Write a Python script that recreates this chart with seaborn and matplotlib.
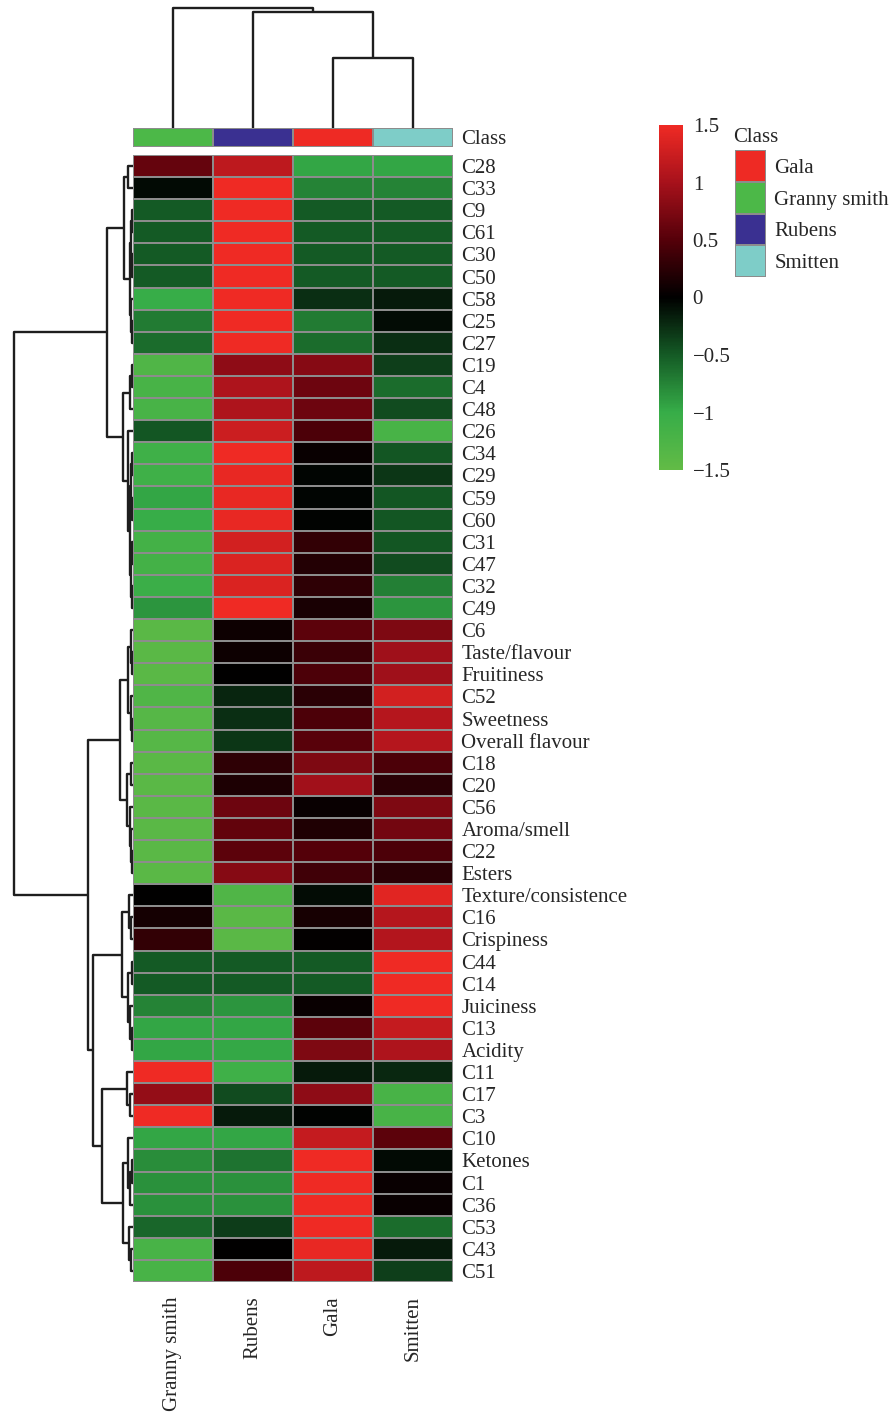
import matplotlib
matplotlib.use("Agg")
import numpy as np
import pandas as pd
import matplotlib.pyplot as plt
import seaborn as sns
from matplotlib.colors import LinearSegmentedColormap, ListedColormap

# --- data ---
samples = ["Granny smith", "Rubens", "Gala", "Smitten"]
features = ["C28", "C33", "C9", "C61", "C30", "C50", "C58", "C25", "C27",
            "C19", "C4", "C48", "C26", "C34", "C29", "C59", "C60", "C31",
            "C47", "C32", "C49", "C6", "Taste/flavour", "Fruitiness", "C52",
            "Sweetness", "Overall flavour", "C18", "C20", "C56", "Aroma/smell",
            "C22", "Esters", "Texture/consistence", "C16", "Crispiness", "C44",
            "C14", "Juiciness", "C13", "Acidity", "C11", "C17", "C3", "C10",
            "Ketones", "C1", "C36", "C53", "C43", "C51"]

granny = [0.6, -0.05, -0.5, -0.5, -0.5, -0.5, -1.0, -0.7, -0.6,
          -1.3, -1.2, -1.2, -0.48, -1.1, -1.1, -0.95, -1.0, -1.15,
          -1.15, -1.05, -0.85, -1.4, -1.4, -1.4, -1.3,
          -1.35, -1.35, -1.4, -1.4, -1.4, -1.4,
          -1.4, -1.4, 0.0, 0.12, 0.3, -0.5,
          -0.5, -0.75, -0.95, -0.95, 1.5, 0.88, 1.5, -0.95,
          -0.8, -0.83, -0.83, -0.57, -1.2, -1.2]
rubens = [1.15, 1.5, 1.5, 1.5, 1.5, 1.5, 1.5, 1.5, 1.5,
          0.85, 1.05, 1.05, 1.25, 1.5, 1.45, 1.45, 1.45, 1.3,
          1.35, 1.35, 1.5, 0.08, 0.08, 0.0, -0.2,
          -0.25, -0.3, 0.27, 0.17, 0.65, 0.58,
          0.55, 0.8, -1.3, -1.4, -1.4, -0.5,
          -0.5, -0.85, -0.95, -0.97, -1.1, -0.42, -0.15, -0.95,
          -0.65, -0.83, -0.83, -0.33, 0.0, 0.45]
gala = [-0.95, -0.75, -0.5, -0.5, -0.5, -0.5, -0.25, -0.7, -0.6,
        0.8, 0.65, 0.65, 0.45, 0.05, -0.03, -0.03, -0.02, 0.3,
        0.2, 0.28, 0.15, 0.55, 0.35, 0.45, 0.25,
        0.45, 0.52, 0.75, 0.97, 0.05, 0.18,
        0.5, 0.38, -0.07, 0.14, 0.02, -0.5,
        -0.5, 0.05, 0.55, 0.75, -0.15, 0.85, -0.02, 1.2,
        1.5, 1.5, 1.5, 1.5, 1.45, 1.15]
smitten = [-0.95, -0.75, -0.5, -0.5, -0.5, -0.5, -0.15, -0.07, -0.25,
           -0.35, -0.6, -0.42, -1.2, -0.48, -0.3, -0.48, -0.48, -0.48,
           -0.42, -0.72, -0.85, 0.75, 0.95, 0.95, 1.3,
           1.1, 1.1, 0.45, 0.25, 0.75, 0.68,
           0.45, 0.25, 1.4, 1.1, 1.08, 1.5,
           1.5, 1.5, 1.2, 1.05, -0.22, -1.2, -1.2, 0.55,
           -0.05, 0.05, 0.05, -0.6, -0.15, -0.35]

class_names = ["Gala", "Granny smith", "Rubens", "Smitten"]
class_colors = ["#ee2a24", "#4cb848", "#3a3091", "#7ecdc8"]

# dendrograms: (height, left, right), leaves are row / column indices
col_tree = (120, 0, (116, 1, (70, 2, 3)))

A = (9, (5, 0, 1), (3, (2.5, (1.5, 2, 3), (1.5, 4, 5)), (2, 6, (1.5, 7, 8))))
B = (10, (3, (1.5, 9, 10), 11),
     (5, 12, (3, (2, (1, 13, 14), (1, 15, 16)), (2, (1, 17, 18), (1.5, 19, 20)))))
C = (13, (5, (2, 21, (1, 22, 23)), (2.5, 24, (1.5, 25, 26))),
     (6, (2, 27, 28), (3, 29, (2, 30, (1, 31, 32)))))
E = (11, (4, 33, (2, 34, 35)), (5, (1.5, 36, 37), (3, 38, (1.5, 39, 40))))
F = (31, (6, 41, (3, 42, 43)),
     (10, (5, 44, (3, (1.5, 45, 46), 47)), (4, 48, (2, 49, 50))))
row_tree = (119, (26, A, B), (45, C, (40, E, F)))

df = pd.DataFrame({"Granny smith": granny, "Rubens": rubens,
                   "Gala": gala, "Smitten": smitten}, index=features)

sns.set_theme(style="white")
plt.rcParams['font.family'] = ['Liberation Serif', 'DejaVu Serif']
FS = 15

cmap = LinearSegmentedColormap.from_list(
    "gkr", [(0, "#62bb46"), (1/6, "#36ad48"), (2/6, "#145a25"), (0.5, "#000000"),
            (4/6, "#540009"), (5/6, "#a6111b"), (1, "#ef2a24")])
class_cmap = ListedColormap(class_colors)

W, H = 894, 1418
fig = plt.figure(figsize=(W / 100, H / 100), dpi=100)


def add_ax(x0, y0, x1, y1):
    # pixel box (top-left origin) -> figure axes
    return fig.add_axes([x0 / W, 1 - y1 / H, (x1 - x0) / W, (y1 - y0) / H])


def draw_tree(ax, node, top):
    if isinstance(node, int):
        return node + 0.5, 0
    h, left, right = node
    p1, h1 = draw_tree(ax, left, top)
    p2, h2 = draw_tree(ax, right, top)
    pos = [p1, p1, p2, p2]
    hts = [h1, h, h, h2]
    if top:
        ax.plot(pos, hts, color="#1e1e1e", lw=1.7, solid_capstyle="butt")
    else:
        ax.plot(hts, pos, color="#1e1e1e", lw=1.7, solid_capstyle="butt")
    return (p1 + p2) / 2, h


grid = "#8c8c8c"

# main heatmap + colorbar
ax = add_ax(133, 155, 453, 1282)
cax = add_ax(659, 125, 683, 470)
sns.heatmap(df, ax=ax, cmap=cmap, vmin=-1.5, vmax=1.5, linewidths=1.2,
            linecolor=grid, cbar_ax=cax, yticklabels=True, xticklabels=True)
ax.yaxis.tick_right()
ax.set_yticklabels(features, rotation=0, fontsize=FS)
ax.set_xticklabels(samples, rotation=90, fontsize=FS)
ax.tick_params(axis="both", length=0)
ax.tick_params(axis="y", pad=6)
ax.tick_params(axis="x", pad=10)
ax.set_ylabel("")

cbar = ax.collections[0].colorbar
cbar.outline.set_visible(False)
cbar.set_ticks([1.5, 1, 0.5, 0, -0.5, -1, -1.5])
cbar.set_ticklabels(["1.5", "1", "0.5", "0", "\u22120.5", "\u22121", "\u22121.5"])
cax.tick_params(length=0, labelsize=FS, pad=7)

# class annotation bar
bax = add_ax(133, 128, 453, 147)
codes = [[class_names.index(s) for s in samples]]
sns.heatmap(codes, ax=bax, cmap=class_cmap, vmin=-0.5, vmax=3.5, cbar=False,
            linewidths=1.2, linecolor=grid, xticklabels=False)
bax.yaxis.tick_right()
bax.set_yticklabels(["Class"], rotation=0, fontsize=FS, va="center_baseline")
bax.tick_params(length=0, pad=6)

# dendrograms
tax = add_ax(133, 0, 453, 128)
draw_tree(tax, col_tree, True)
tax.set_xlim(0, 4)
tax.set_ylim(0, 128)
tax.axis("off")

lax = add_ax(0, 155, 133, 1282)
draw_tree(lax, row_tree, False)
lax.set_ylim(51, 0)
lax.set_xlim(133, 0)
lax.axis("off")

# class legend
gax = add_ax(735, 150, 766, 277)
sns.heatmap([[0], [1], [2], [3]], ax=gax, cmap=class_cmap, vmin=-0.5, vmax=3.5,
            cbar=False, linewidths=1.2, linecolor=grid, xticklabels=False)
gax.yaxis.tick_right()
gax.set_yticklabels(class_names, rotation=0, fontsize=FS)
gax.tick_params(length=0, pad=6)
fig.text(733 / W, 1 - 137 / H, "Class", fontsize=FS, ha="left", va="center")

fig.savefig("out.png", dpi=100)
